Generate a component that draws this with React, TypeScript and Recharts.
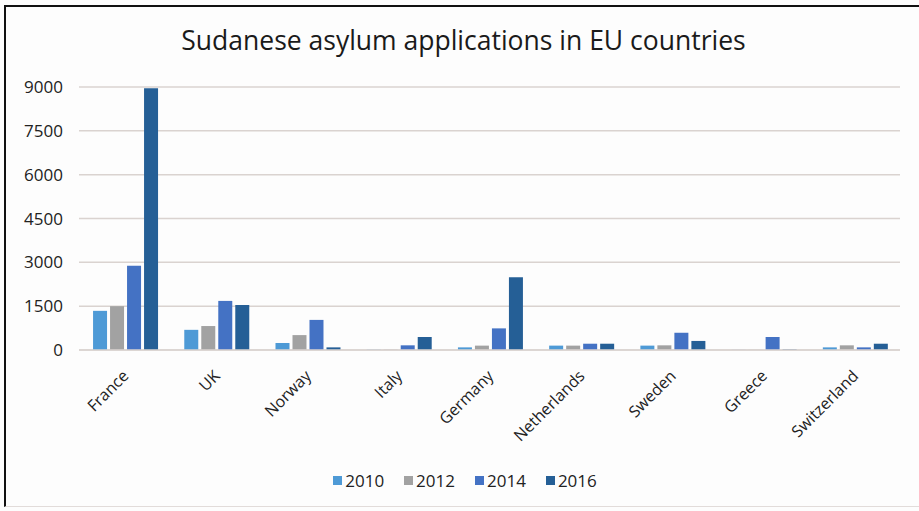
import { BarChart, Bar, XAxis, YAxis, CartesianGrid, Legend } from "recharts";

const countries = ["France", "UK", "Norway", "Italy", "Germany", "Netherlands", "Sweden", "Greece", "Switzerland"];
const apps2010 = [1340, 690, 240, 10, 90, 150, 150, 5, 90];
const apps2012 = [1500, 820, 510, 10, 150, 150, 160, 5, 160];
const apps2014 = [2880, 1680, 1030, 160, 740, 215, 590, 445, 90];
const apps2016 = [8960, 1540, 90, 445, 2490, 215, 310, 20, 215];
const yTicks = [0, 1500, 3000, 4500, 6000, 7500, 9000];

const series = [
  { key: "y2010", name: "2010", color: "#4e9ad6" },
  { key: "y2012", name: "2012", color: "#a2a2a2" },
  { key: "y2014", name: "2014", color: "#4472c4" },
  { key: "y2016", name: "2016", color: "#255f96" },
];

const data = countries.map((c, i) => ({
  country: c,
  y2010: apps2010[i],
  y2012: apps2012[i],
  y2014: apps2014[i],
  y2016: apps2016[i],
}));

const FONT = "'Open Sans', sans-serif";

const CountryTick = (props: any) => {
  const { x, y, payload } = props;
  const ax = x + 5;
  const ay = y + 19;
  return (
    <text
      x={ax}
      y={ay}
      textAnchor="end"
      transform={`rotate(-45, ${ax}, ${ay})`}
      fontSize={16}
      fontFamily={FONT}
      fill="#222"
    >
      {payload.value}
    </text>
  );
};

const LegendBox = (props: any) => (
  <div style={{ height: 24, display: "flex", justifyContent: "center", alignItems: "center", paddingLeft: 30, fontFamily: FONT, fontSize: 17, color: "#222" }}>
    {(props.payload || []).map((p: any) => (
      <div key={p.value} style={{ display: "flex", alignItems: "center", margin: "0 10px" }}>
        <span style={{ width: 9, height: 9, background: p.color, marginRight: 3, display: "inline-block" }} />
        {p.value}
      </div>
    ))}
  </div>
);

export default function App() {
  return (
    <div style={{ position: "fixed", left: 0, top: 0, width: 919, height: 511, background: "#fdfdfd" }}>
      <div
        style={{
          position: "absolute",
          left: 4,
          top: 5,
          width: 915,
          height: 502,
          borderTop: "2px solid #111",
          borderLeft: "2px solid #111",
          borderBottom: "1px solid #e2dcda",
          boxSizing: "border-box",
        }}
      />
      <div
        style={{
          position: "absolute",
          top: 22,
          left: 0,
          width: 927,
          textAlign: "center",
          fontFamily: FONT,
          fontSize: 26.5,
          color: "#1a1a1a",
        }}
      >
        Sudanese asylum applications in EU countries
      </div>
      <div style={{ position: "absolute", left: 0, top: 0 }}>
        <BarChart
          width={919}
          height={511}
          data={data}
          margin={{ top: 87, right: 19, left: 0, bottom: 19 }}
          barCategoryGap="15.4%"
          barGap={3}
        >
          <CartesianGrid vertical={false} stroke="#dad3d0" strokeWidth={1.5} />
          <XAxis
            dataKey="country"
            interval={0}
            height={118}
            tickLine={false}
            axisLine={{ stroke: "#dad3d0", strokeWidth: 1.5 }}
            tick={<CountryTick />}
          />
          <YAxis
            width={79}
            domain={[0, 9000]}
            ticks={yTicks}
            axisLine={false}
            tickLine={false}
            tickSize={0}
            tickMargin={16}
            tick={{ fontSize: 17, fontFamily: FONT, fill: "#222" }}
          />
          <Legend verticalAlign="bottom" content={<LegendBox />} />
          {series.map((s) => (
            <Bar key={s.key} dataKey={s.key} name={s.name} fill={s.color} isAnimationActive={false} />
          ))}
        </BarChart>
      </div>
    </div>
  );
}
